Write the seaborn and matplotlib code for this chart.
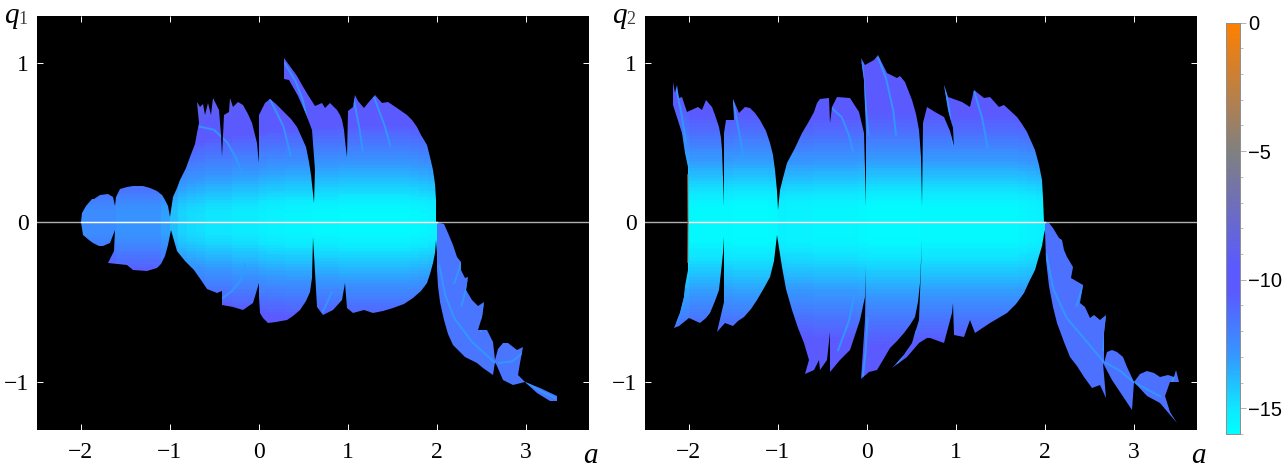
import numpy as np
import seaborn as sns
import matplotlib.pyplot as plt
from matplotlib.colors import LinearSegmentedColormap
from matplotlib.patches import Polygon

W, H = 1287, 472
A_STEP, Q_STEP = 0.1, 0.02
A_START, Q_START = -2.5, 1.3
A_TICKS = [-2, -1, 0, 1, 2, 3]
Q_TICKS = [-1, 0, 1]
CBAR_TICKS = [0, -5, -10, -15]

# log error against q, rows from q=1.29 down to q=-1.29
upper_1 = [-10] * 27 + [-10, -10, -10.1, -10.2, -10.3, -10.45, -10.6, -10.75, -10.95, -11.15, -11.35, -11.55,
                        -11.75, -11.95, -12.15, -12.35, -12.55, -12.75, -12.95, -13.15, -13.35, -13.55, -13.75,
                        -13.95, -14.15, -14.35, -14.55, -14.75, -14.95, -15.15, -15.35, -15.55, -15.7, -15.85,
                        -15.95, -16, -16, -16]
lower_1 = upper_1[::-1]
upper_2 = [-10] * 18 + [-10, -10.05, -10.1, -10.15, -10.2, -10.25, -10.3, -10.35, -10.4,
                        -10.5, -10.55, -10.65, -10.75, -10.85, -10.95, -11.1, -11.25, -11.4, -11.55, -11.75, -11.95,
                        -12.15, -12.35, -12.55, -12.75, -12.95, -13.15, -13.3, -13.5, -13.7, -13.9, -14.1, -14.3,
                        -14.5, -14.7, -14.9, -15.1, -15.3, -15.5, -15.65, -15.8, -15.9, -16, -16, -16, -16, -16]
lower_2 = [-16, -16, -16, -16, -16, -15.95, -15.85, -15.7, -15.55, -15.4, -15.25, -15.1, -14.95, -14.8, -14.65,
           -14.45, -14.3, -14.1, -13.95, -13.75, -13.6, -13.4, -13.25, -13.05, -12.9, -12.7, -12.55, -12.35,
           -12.2, -12.0, -11.85, -11.7, -11.55, -11.4, -11.25, -11.1, -10.95, -10.85,
           -10.7, -10.6, -10.5, -10.4, -10.3, -10.2, -10.1, -10.05, -10] + [-10] * 18

# shift of each a column left of a=2, and level of the columns right of a=2
offsets_1 = [3.5, 3.5, 3.5, 3.5, 3.5,
             3.5, 3.5, 3.5, 3.5, 3.2, 3.2, 3.2, 3.2, 3.2, 2.8,
             2, 1.5, 1.3, 1.2, 1, 1, 1, .8, .8, .8,
             .6, .5, .5, .4, .4, .4, .3, .3, .3, .2,
             .2, .2, .2, .2, .2, .2, .2, .3, .4, .5]
offsets_2 = [0, 0, 0, 0, 0,
             .3, .3, .3, .3, .3, .2, .2, .2, .2, .3,
             .6, .5, .5, .5, .4, .4, .4, .4, .4, .3,
             .2, .2, .2, .2, .2, .2, .3, .3, .3, .3,
             .3, .3, .3, .3, .3, .3, .3, .4, .5, .6]
tail_1 = [-11.6] * 17
tail_2 = [-11.4] * 17

# outline of panel 1, left to right along the top, round the tail, then back along the bottom
up1_a = [-2.0, -1.985, -1.94, -1.875, -1.85, -1.78, -1.69, -1.64, -1.61, -1.6, -1.556, -1.48, -1.406, -1.294,
         -1.22, -1.144, -1.09, -1.05, -1.02, -.994, -.957, -.92, -.88, -.82, -.77, -.72, -.69, -.67, -.687,
         -.657, -.62, -.6, -.564, -.537, -.507, -.45, -.42, -.414, -.387, -.328, -.32, -.283, -.226, -.17,
         -.12, -.076, -.04, -.02, -.005, 0, .01, .073, .13, .2, .28, .36, .43, .49, .53, .57, .59, .62, .63,
         .6, .535, .44, .34, .286, .286, .43, .49, .56, .63, .71, .747, .803, .878, .91, .934, .955, .97,
         .982, .99, 1.0, 1.065, 1.084, 1.12, 1.18, 1.234, 1.31, 1.383, 1.457, 1.552, 1.664, 1.72, 1.777, 1.83,
         1.889, 1.93, 1.964, 1.98, 1.99, 1.995]
up1_q = [0, .06, .1, .147, .145, .175, .176, .158, .1, .16, .208, .222, .229, .229,
         .218, .2, .17, .14, .1, .036, .16, .215, .266, .34, .41, .49, .56, .62, .756,
         .725, .74, .67, .746, .673, .777, .705, .55, .412, .673, .694, .777, .725, .756, .736,
         .68, .62, .55, .496, .43, .37, .673, .746, .772, .74, .69, .65, .6, .53, .47, .38, .3, .12, .33,
         .58, .68, .79, .89, .9, 1.03, .92, .86, .8, .73, .746, .715, .746, .705, .675, .642, .58, .516,
         .46, .41, .7, .724, .798, .76, .716, .746, .798, .746, .756, .715, .673, .64, .6, .55,
         .485, .41, .329, .24, .14, 0]
tail1_a = [2.08, 2.13, 2.189, 2.226, 2.271, 2.271, 2.32, 2.357, 2.331, 2.395, 2.47, 2.537, 2.507, 2.47, 2.563,
           2.63, 2.66, 2.694, 2.75, 2.807, 2.9, 2.975, 2.94, 2.92, 2.995, 3.16, 3.35, 3.358, 3.27, 3.125, 2.995,
           2.864, 2.75, 2.68, 2.66, 2.63, 2.526, 2.45, 2.32, 2.25, 2.19, 2.13, 2.08, 2.04, 2.02, 2.01, 2.0]
tail1_q = [-.01, -.068, -.14, -.214, -.245, -.3, -.35, -.343, -.423, -.485, -.523, -.5, -.59, -.673, -.673,
           -.746, -.86, -.79, -.757, -.757, -.8, -.78, -.88, -.955, -1.0, -1.04, -1.09, -1.116, -1.12, -1.07, -1.0,
           -1.018, -.987, -.9, -.875, -.955, -.913, -.88, -.84, -.805, -.767, -.7, -.61, -.5, -.4, -.3, -.19]
lo1_a = [-2.0, -1.968, -1.91, -1.856, -1.79, -1.743, -1.67, -1.61, -1.62, -1.687, -1.48, -1.406, -1.257, -1.144,
         -1.1, -1.05, -1.02, -.987, -.92, -.83, -.73, -.65, -.58, -.47, -.414, -.414, -.283, -.17, -.058, 0,
         .005, .016, .05, .11, .2, .316, .39, .466, .53, .578, .6, .616, .653, .728, .84, .934, .97, .99, 1.065,
         1.18, 1.29, 1.4, 1.515, 1.63, 1.74, 1.82, 1.889, 1.93, 1.964, 1.98, 1.99]
lo1_q = [0, -.08, -.11, -.13, -.15, -.15, -.13, -.05, -.18, -.255, -.266, -.297, -.304, -.287,
         -.26, -.21, -.14, -.05, -.18, -.24, -.3, -.36, -.42, -.44, -.43, -.516, -.527, -.548, -.506, -.38,
         -.47, -.57, -.6, -.63, -.625, -.61, -.585, -.548, -.49, -.433, -.35, -.09, -.527, -.58, -.55, -.485,
         -.38, -.537, -.565, -.55, -.565, -.555, -.537, -.51, -.475, -.43, -.38, -.32, -.256, -.19, -.11]

# outline of panel 2
up2_a = [-2.007, -2.01, -2.037, -2.075, -2.176, -2.176, -2.15, -2.13, -2.105, -2.075, -2.02, -1.9, -1.85,
         -1.8, -1.74, -1.7, -1.663, -1.64, -1.625, -1.612, -1.607, -1.6, -1.577, -1.494, -1.506, -1.438, -1.363,
         -1.307, -1.25, -1.195, -1.135, -1.082, -1.05, -1.026, -1.01, -.996, -.97, -.94, -.895, -.81, -.727,
         -.66, -.596, -.555, -.52, -.427, -.416, -.39, -.333, -.183, -.09, -.026, -.004, -.004, -.026, -.064,
         -.015, .079, .127, .228, .34, .37, .434, .51, .55, .584, .6, .61, .622, .633, .678, .772, .865, .94,
         .978, .966, .92, .873, .92, 1.07, 1.165, 1.21, 1.315, 1.39, 1.483, 1.54, 1.69, 1.75, 1.8, 1.85, 1.895,
         1.94, 1.97, 1.985, 1.996]
up2_q = [0, .35, .433, .558, .736, .882, .81, .86, .778, .788, .694, .725, .705,
         .767, .725, .67, .6, .53, .454, .28, .1, .558, .642, .642, .773, .684, .725,
         .715, .685, .642, .575, .496, .42, .329, .2, .08, .204, .28, .37, .465, .558,
         .625, .694, .75, .772, .778, .62, .725, .788, .778, .694, .558, .1, .558, .892, 1.028,
         .986, 1.018, 1.049, .934, .903, .917, .882, .767, .68, .579, .5, .412, .1, .621, .725, .694, .66, .57,
         .475, .59, .705, .861, .788, .757, .725, .83, .778, .788, .725, .736, .663, .615, .569, .51, .454,
         .36, .266, .15, 0]
tail2_a = [2.045, 2.1, 2.157, 2.195, 2.213, 2.25, 2.318, 2.296, 2.43, 2.4, 2.457, 2.513, 2.558, 2.625, 2.693, 2.67,
           2.67, 2.7, 2.757, 2.81, 2.887, 2.93, 3.0, 3.075, 3.15, 3.225, 3.3, 3.39, 3.45, 3.48, 3.506, 3.41, 3.355,
           3.41, 3.487, 3.3, 3.15, 3.0, 2.98, 2.757, 2.66, 2.69, 2.625, 2.53, 2.44, 2.363, 2.288, 2.213, 2.14, 2.09,
           2.045, 2.018, 2.0]
tail2_q = [-.005, -.036, -.1, -.11, -.17, -.214, -.277, -.35, -.39, -.506, -.53, -.6, -.58, -.61, -.58, -.694,
           -.882, -.81, -.8, -.81, -.84, -.903, -1.0, -.95, -.928, -.945, -.966, -.955, -.966, -.924, -1.0, -1.0, -1.09,
           -1.185, -1.254, -1.133, -1.09, -1.0, -1.175, -.987, -.882, -1.1, -1.02, -1.04, -.966, -.9, -.84, -.746, -.63,
           -.527, -.4, -.235, -.05]
lo2_a = [-2.007, -2.01, -2.037, -2.05, -2.1, -2.16, -2.11, -2.0, -1.87, -1.8, -1.757, -1.7, -1.663, -1.635, -1.618,
         -1.607, -1.6, -1.68, -1.588, -1.5, -1.44, -1.38, -1.3, -1.232, -1.15, -1.082, -1.04, -1.007, -.95, -.9, -.84,
         -.77, -.708, -.65, -.69, -.595, -.54, -.52, -.446, -.416, -.408, -.296, -.183, -.07, -.015, -.004, -.015,
         -.06, .022, .116, .19, .266, .34, .416, .49, .547, .575, .596, .622, .584, .51, .416, .288, .453, .584, .678,
         .715, .873, .96, .966, .978, 1.09, 1.165, 1.22, 1.39, 1.577, 1.68, 1.764, 1.83, 1.895, 1.94, 1.97, 1.99]
lo2_q = [0, -.3, -.4, -.465, -.57, -.663, -.65, -.6, -.63, -.6, -.57, -.49, -.423, -.31, -.193,
         -.09, -.5, -.684, -.63, -.65, -.62, -.59, -.54, -.485, -.41, -.34, -.24, -.08, -.277, -.42, -.548,
         -.66, -.757, -.862, -.95, -.924, -.862, -.924, -.862, -.684, -.934, -.862, -.8, -.61, -.465, -.276, -.61,
         -.982, -.934, -.924, -.86, -.788, -.74, -.694, -.64, -.59, -.5, -.38, -.11, -.61, -.757, -.83, -.914, -.845,
         -.757, -.725, -.725, -.753, -.57, -.506, -.705, -.715, -.61, -.694, -.63, -.57, -.51, -.443, -.37, -.298,
         -.21, -.15, -.07]

# bright thin streaks inside the shapes
streaks_1 = [
    ([-.66, -.5, -.35, -.25, -.18], [.6, .58, .5, .4, .3]),
    ([-.42, -.3, -.2, -.15], [-.48, -.43, -.36, -.26]),
    ([.29, .42, .5, .56, .6], [1.0, .88, .76, .6, .42]),
    ([2.03, 2.1, 2.2, 2.4, 2.66], [-.27, -.46, -.6, -.75, -.88]),
    ([2.27, 2.2], [-.26, -.38]),
    ([2.36, 2.28], [-.36, -.52]),
    ([2.53, 2.5], [-.52, -.68]),
    ([2.7, 2.85, 2.96], [-.88, -.87, -.82]),
    ([3.0, 3.15, 3.33], [-1.0, -1.05, -1.1]),
    ([.72, .78, .82], [-.56, -.49, -.44]),
    ([1.07, 1.13, 1.17], [.77, .6, .45]),
    ([1.3, 1.42, 1.48], [.78, .6, .48]),
    ([.13, .28, .36], [.77, .6, .42]),
]
streaks_2 = [
    ([-.4, -.28, -.2, -.15], [.72, .66, .55, .44]),
    ([-.32, -.2, -.14], [-.8, -.62, -.46]),
    ([-2.14, -2.08, -2.03], [.84, .68, .5]),
    ([-2.13, -2.07, -2.03], [-.62, -.52, -.42]),
    ([-1.5, -1.43, -1.39], [.76, .56, .42]),
    ([-.05, -.02, .02], [1.0, .8, .55]),
    ([.13, .22, .3, .33], [1.03, .9, .7, .55]),
    ([-.04, -.01, .01], [-.96, -.8, -.6]),
    ([.35, .45, .55], [-.88, -.8, -.68]),
    ([.88, .93, .97], [.85, .7, .48]),
    ([1.21, 1.3, 1.36], [.82, .65, .47]),
    ([2.02, 2.1, 2.25, 2.45, 2.66, 2.85, 3.0, 3.3], [-.2, -.42, -.6, -.73, -.87, -.93, -1.0, -1.09]),
    ([2.43, 2.36], [-.4, -.52]),
    ([2.69, 2.66], [-.6, -.8]),
    ([3.45, 3.38], [-.97, -1.1]),
]
# brownish rim on the left edge of panel 2
rim2_a = [-2.01, -2.007, -2.01]
rim2_q = [.3, 0, -.25]


def to_x(a):
    return (np.asarray(a, dtype=float) - A_START) / A_STEP


def to_y(q):
    return (Q_START - np.asarray(q, dtype=float)) / Q_STEP


def axes_box(x0, x1, y0, y1):
    return [x0 / W, 1 - y1 / H, (x1 - x0) / W, (y1 - y0) / H]


cmap = LinearSegmentedColormap.from_list('err', [
    (0, '#00ffff'), (1.0 / 16, '#0fe6ff'), (3.0 / 16, '#3498ff'), (5.5 / 16, '#5a5aff'),
    (6.5 / 16, '#5a5aff'), (11.0 / 16, '#808080'), (13.5 / 16, '#c08040'), (1, '#ff8000')])

plt.rcParams['font.family'] = ['Liberation Serif', 'DejaVu Serif']
fig = plt.figure(figsize=(W / 100, H / 100), dpi=100)
ax1 = fig.add_axes(axes_box(37, 589, 16, 430))
ax2 = fig.add_axes(axes_box(645, 1197, 16, 430))
cax = fig.add_axes(axes_box(1225.5, 1239.5, 22.5, 434))


def draw_panel(ax, rows, offsets, tail, up_a, up_q, tail_a, tail_q, lo_a, lo_q, streaks, colorbar):
    grid = np.array(rows)[:, None] + np.array(offsets)[None, :]
    grid = np.hstack([grid, np.tile(np.array(tail)[None, :], (len(rows), 1))])
    sns.heatmap(grid, ax=ax, cmap=cmap, vmin=-16, vmax=0, cbar=colorbar, cbar_ax=cax if colorbar else None,
                xticklabels=False, yticklabels=False)
    ax.set_facecolor('black')
    outline_a = list(up_a) + list(tail_a) + list(lo_a)[::-1]
    outline_q = list(up_q) + list(tail_q) + list(lo_q)[::-1]
    shape = Polygon(np.column_stack([to_x(outline_a), to_y(outline_q)]), closed=True,
                    facecolor='none', edgecolor='none', transform=ax.transData)
    ax.add_patch(shape)
    ax.collections[0].set_clip_path(shape)
    for s_a, s_q in streaks:
        n = len(ax.lines)
        sns.lineplot(x=to_x(s_a), y=to_y(s_q), ax=ax, sort=False, estimator=None, color='#2f9dff', lw=1.4,
                     alpha=0.85, legend=False)
        ax.lines[n].set_clip_path(shape)
    # axis line at q=0, white over the shape and grey beyond it
    sns.lineplot(x=to_x([-2.49, 3.71]), y=to_y([0, 0]), ax=ax, sort=False, estimator=None, color='#b0b0b0',
                 lw=1.0, legend=False)
    sns.lineplot(x=to_x([-2.0, 2.0]), y=to_y([0, 0]), ax=ax, sort=False, estimator=None, color='#f4ffff',
                 lw=1.0, legend=False)
    ax.set_xlim(to_x(-2.49), to_x(3.713))
    ax.set_ylim(to_y(-1.30), to_y(1.293))
    ax.set_xticks(to_x(A_TICKS))
    ax.set_xticklabels([str(t).replace('-', '\u2212') for t in A_TICKS], rotation=0, fontsize=17)
    ax.set_yticks(to_y(Q_TICKS))
    ax.set_yticklabels([str(t).replace('-', '\u2212') for t in Q_TICKS], rotation=0, fontsize=17)
    ax.tick_params(axis='x', direction='in', top=True, bottom=True, length=4, width=0.7, color='white',
                   labelcolor='black', pad=9)
    ax.tick_params(axis='y', direction='in', left=True, right=True, length=4.5, width=0.7, color='white',
                   labelcolor='black', pad=6)
    for sp in ax.spines.values():
        sp.set_visible(False)


draw_panel(ax1, upper_1 + lower_1, offsets_1, tail_1, up1_a, up1_q, tail1_a, tail1_q, lo1_a, lo1_q, streaks_1, True)
draw_panel(ax2, upper_2 + lower_2, offsets_2, tail_2, up2_a, up2_q, tail2_a, tail2_q, lo2_a, lo2_q, streaks_2, False)
sns.lineplot(x=to_x(rim2_a), y=to_y(rim2_q), ax=ax2, sort=False, estimator=None, color='#a05a40', lw=0.7, legend=False)

cax.set_yticks(CBAR_TICKS)
cax.set_yticklabels([str(t).replace('-', '\u2212') for t in CBAR_TICKS], fontsize=14.5, family='Liberation Sans')
cax.set_yticks(np.arange(-16, 1), minor=True)
cax.tick_params(axis='y', which='major', length=4, width=0.7, color='#b0b0b0', pad=2, right=True)
cax.tick_params(axis='y', which='minor', length=2.5, width=0.6, color='#b0b0b0', right=True)
for sp in cax.spines.values():
    sp.set_visible(True)
    sp.set_color('#909090')
    sp.set_linewidth(0.7)

# panel and axis labels sit outside the axes
for x, name, sub in [(4, 'q', '1'), (612, 'q', '2')]:
    fig.text(x / W, 1 - 23 / H, name, fontsize=21, style='italic', ha='left', va='baseline')
    fig.text((x + 14) / W, 1 - 24 / H, sub, fontsize=13, color='#404040', ha='left', va='baseline')
for x in (583, 1191):
    fig.text(x / W, 1 - 463 / H, 'a', fontsize=21, style='italic', ha='left', va='baseline')

fig.savefig('out.png', dpi=100, facecolor='white')
